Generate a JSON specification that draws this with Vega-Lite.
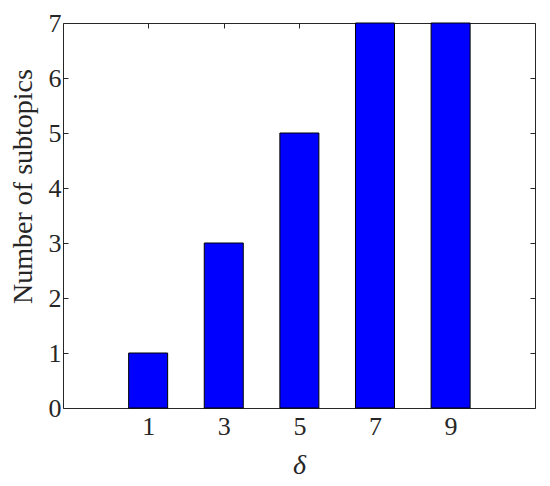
{
  "$schema": "https://vega.github.io/schema/vega-lite/v6.json",
  "autosize": "none",
  "width": 472,
  "height": 385,
  "padding": {"left": 63, "top": 23, "right": 15, "bottom": 78},
  "background": "white",
  "config": {
    "view": {"stroke": "#262626", "strokeWidth": 1},
    "font": "Liberation Serif",
    "axis": {
      "grid": false,
      "domain": false,
      "tickColor": "#262626",
      "tickSize": -5,
      "labelFont": "Liberation Serif",
      "labelFontSize": 26,
      "labelColor": "#262626",
      "titleFont": "Liberation Serif",
      "titleFontSize": 28,
      "titleFontWeight": "normal",
      "titleColor": "#262626"
    }
  },
  "data": {"values": [
    {"delta": 1, "count": 1},
    {"delta": 3, "count": 3},
    {"delta": 5, "count": 5},
    {"delta": 7, "count": 7},
    {"delta": 9, "count": 7}
  ]},
  "layer": [
    {
      "mark": {"type": "bar", "color": "#0000FF", "stroke": "#000000", "strokeWidth": 1, "size": 39},
      "encoding": {
        "x": {"field": "delta", "type": "quantitative",
              "scale": {"domain": [-1.12, 11.1], "nice": false, "zero": false},
              "axis": {"values": [1, 3, 5, 7, 9], "title": "δ", "titleFontStyle": "italic", "labelPadding": 10, "titlePadding": 12}},
        "y": {"field": "count", "type": "quantitative",
              "scale": {"domain": [0, 7], "nice": false},
              "axis": {"values": [0, 1, 2, 3, 4, 5, 6, 7], "title": "Number of subtopics", "labelPadding": 7, "titlePadding": 11, "titleY": 163}}
      }
    },
    {
      "mark": {"type": "point", "opacity": 0},
      "encoding": {
        "x": {"field": "delta", "type": "quantitative",
              "axis": {"orient": "top", "values": [1, 3, 5, 7, 9], "labels": false, "title": null}},
        "y": {"field": "count", "type": "quantitative",
              "axis": {"orient": "right", "values": [0, 1, 2, 3, 4, 5, 6, 7], "labels": false, "title": null}}
      }
    }
  ],
  "resolve": {"axis": {"x": "independent", "y": "independent"}}
}
